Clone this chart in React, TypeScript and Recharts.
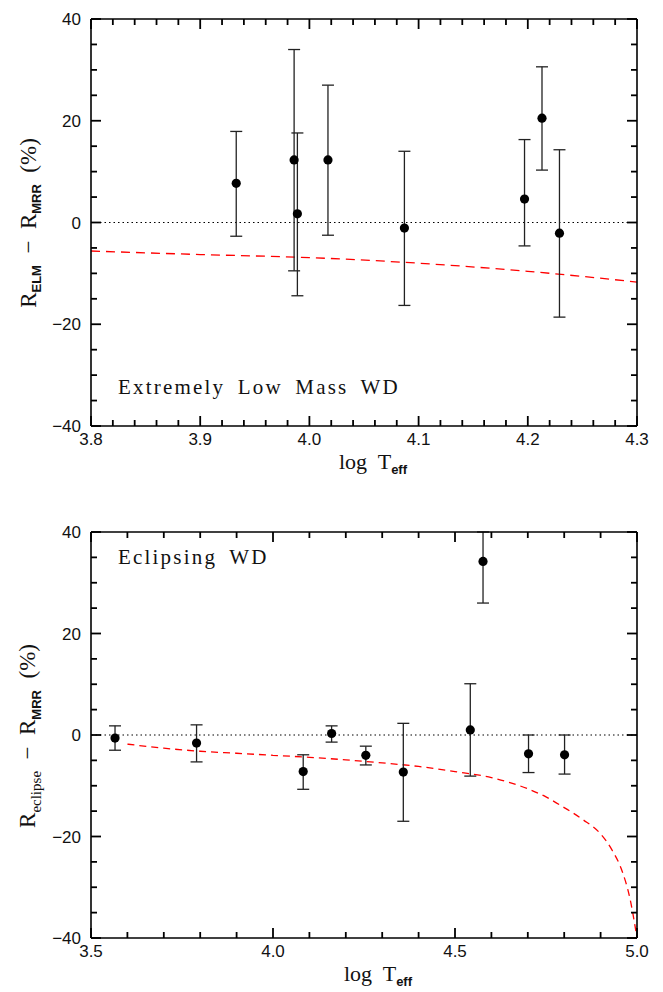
import React from 'react';
import { ComposedChart, XAxis, YAxis, Line, Scatter, ErrorBar, ReferenceLine } from 'recharts';

// ---- top panel: extremely low mass WDs ----
const elmLogT = [3.933, 3.986, 3.989, 4.017, 4.087, 4.197, 4.213, 4.229];
const elmDiff = [7.7, 12.3, 1.7, 12.3, -1.1, 4.6, 20.5, -2.1];
const elmLow = [-2.7, -9.5, -14.4, -2.5, -16.3, -4.6, 10.3, -18.6];
const elmHigh = [17.9, 34.0, 17.6, 27.0, 14.0, 16.3, 30.6, 14.3];

const elmCurveX = [3.8, 3.9, 4.0, 4.1, 4.2, 4.3];
const elmCurveY = [-5.6, -6.3, -6.9, -8.0, -9.6, -11.7];

const elmXMinor = [3.8, 3.82, 3.84, 3.86, 3.88, 3.9, 3.92, 3.94, 3.96, 3.98, 4.0, 4.02, 4.04, 4.06, 4.08, 4.1, 4.12, 4.14, 4.16, 4.18, 4.2, 4.22, 4.24, 4.26, 4.28, 4.3];
const elmXMajor = [3.8, 3.9, 4.0, 4.1, 4.2, 4.3];

// ---- bottom panel: eclipsing WDs ----
const eclLogT = [3.566, 3.79, 4.083, 4.161, 4.255, 4.358, 4.542, 4.577, 4.702, 4.801];
const eclDiff = [-0.6, -1.6, -7.2, 0.3, -4.0, -7.3, 1.0, 34.2, -3.7, -3.9];
const eclLow = [-3.0, -5.3, -10.7, -1.4, -5.9, -17.0, -8.1, 26.0, -7.4, -7.7];
const eclHigh = [1.8, 2.0, -3.9, 1.8, -2.2, 2.3, 10.1, 40.0, 0.0, 0.0];

const eclCurveX = [3.6, 3.7, 3.8, 3.9, 4.0, 4.1, 4.2, 4.3, 4.4, 4.5, 4.6, 4.7, 4.75, 4.8, 4.85, 4.9, 4.93, 4.96, 4.98, 5.0];
const eclCurveY = [-1.8, -2.6, -3.2, -3.6, -4.0, -4.4, -4.9, -5.5, -6.2, -7.2, -8.4, -10.6, -12.2, -14.3, -16.6, -19.5, -22.5, -27.0, -32.0, -40.0];

const eclXMinor = [3.5, 3.6, 3.7, 3.8, 3.9, 4.0, 4.1, 4.2, 4.3, 4.4, 4.5, 4.6, 4.7, 4.8, 4.9, 5.0];
const eclXMajor = [3.5, 4.0, 4.5, 5.0];

const yMinor = [-40, -35, -30, -25, -20, -15, -10, -5, 0, 5, 10, 15, 20, 25, 30, 35, 40];
const yMajor = [-40, -20, 0, 20, 40];

const points = (xs: number[], ys: number[], lo: number[], hi: number[]) =>
  xs.map((x, i) => ({ x, y: ys[i], err: [ys[i] - lo[i], hi[i] - ys[i]] }));
const curve = (xs: number[], ys: number[]) => xs.map((x, i) => ({ x, y: ys[i] }));

const elmPoints = points(elmLogT, elmDiff, elmLow, elmHigh);
const elmCurve = curve(elmCurveX, elmCurveY);
const eclPoints = points(eclLogT, eclDiff, eclLow, eclHigh);
const eclCurve = curve(eclCurveX, eclCurveY);

const isMajor = (v: number, majors: number[]) => majors.some((m) => Math.abs(m - v) < 1e-6);

// inward tick marks on all four sides of the frame, placed through the chart scales
function tickMarks(xDomain: number[], xMinor: number[], xMajor: number[]) {
  const marks: any[] = [];
  xMinor.forEach((v) => {
    const len = isMajor(v, xMajor) ? 10 : 6;
    marks.push({ x: v, y: -40, dx: 0, dy: -len });
    marks.push({ x: v, y: 40, dx: 0, dy: len });
  });
  yMinor.forEach((v) => {
    const len = isMajor(v, yMajor) ? 10 : 6;
    marks.push({ x: xDomain[0], y: v, dx: len, dy: 0 });
    marks.push({ x: xDomain[1], y: v, dx: -len, dy: 0 });
  });
  return marks;
}
const elmMarks = tickMarks([3.8, 4.3], elmXMinor, elmXMajor);
const eclMarks = tickMarks([3.5, 5.0], eclXMinor, eclXMajor);

const TICK_FONT = '"Liberation Sans", Arial, sans-serif';
const LABEL_FONT = '"Liberation Serif", "DejaVu Serif", serif';
const minus = (s: string) => s.replace('-', '\u2212');

const XLabel = (props: any) => (
  <text x={props.x} y={props.y + 19} textAnchor="middle" fontSize={17} fontFamily={TICK_FONT} fill="#111">
    {props.payload.value.toFixed(1)}
  </text>
);
const YLabel = (props: any) => (
  <text x={props.x - 10} y={props.y + 6} textAnchor="end" fontSize={17} fontFamily={TICK_FONT} fill="#111">
    {minus(props.payload.value.toFixed(0))}
  </text>
);

const Dot = (p: any) => <circle cx={p.cx} cy={p.cy} r={4.6} fill="#000" />;
const TickMark = (p: any) => {
  const d = p.payload || {};
  return (
    <line x1={p.cx} y1={p.cy} x2={p.cx + (d.dx || 0)} y2={p.cy + (d.dy || 0)} stroke="#000" strokeWidth={1.8} />
  );
};

const frame = { stroke: '#000', strokeWidth: 1.6 };

function axes(xDomain: number[], xMajor: number[]) {
  return [
    <XAxis key="b" xAxisId="b" type="number" dataKey="x" domain={xDomain} ticks={xMajor} interval={0} height={1}
      tickSize={0} tickMargin={0} tickLine={false} axisLine={frame} tick={XLabel} />,
    <XAxis key="t" xAxisId="t" orientation="top" type="number" dataKey="x" domain={xDomain} ticks={xMajor} height={1}
      tickLine={false} axisLine={frame} tick={false} />,
    <YAxis key="l" yAxisId="l" type="number" dataKey="y" domain={[-40, 40]} ticks={yMajor} interval={0} width={1}
      tickSize={0} tickMargin={0} tickLine={false} axisLine={frame} tick={YLabel} />,
    <YAxis key="r" yAxisId="r" orientation="right" type="number" dataKey="y" domain={[-40, 40]} ticks={yMajor} width={1}
      tickLine={false} axisLine={frame} tick={false} />,
  ];
}

export default function App() {
  const margin1 = { top: 10, right: 17, bottom: 61, left: 82 };
  const margin2 = { top: 23, right: 17, bottom: 53, left: 82 };
  const sub = { fontFamily: TICK_FONT, fontSize: 13, fontWeight: 'bold' as const };
  const panelText = { position: 'absolute' as const, left: 110, fontFamily: LABEL_FONT, fontSize: 21, letterSpacing: 2.2, wordSpacing: 5, color: '#111', whiteSpace: 'nowrap' as const };
  return (
    <div style={{ position: 'relative', width: 655, height: 984, background: '#fff' }}>
      <div style={{ position: 'absolute', left: 0, top: 0 }}>
        <ComposedChart width={647} height={480} margin={margin1}>
          {axes([3.8, 4.3], elmXMajor)}
          <ReferenceLine xAxisId="b" yAxisId="l" y={0} stroke="#000" strokeDasharray="1.5 3" strokeWidth={1} />
          <Scatter xAxisId="b" yAxisId="l" data={elmMarks} dataKey="y" shape={TickMark} isAnimationActive={false} />
          <Line xAxisId="b" yAxisId="l" data={elmCurve} dataKey="y" type="monotone" stroke="#ff0000"
            strokeDasharray="9 6" strokeWidth={1.3} dot={false} isAnimationActive={false} />
          <Scatter xAxisId="b" yAxisId="l" data={elmPoints} dataKey="y" shape={Dot} isAnimationActive={false}>
            <ErrorBar dataKey="err" direction="y" width={6} stroke="#222" strokeWidth={1.3} isAnimationActive={false} />
          </Scatter>
        </ComposedChart>
      </div>
      <div style={{ position: 'absolute', left: 0, top: 500 }}>
        <ComposedChart width={647} height={484} margin={margin2}>
          {axes([3.5, 5.0], eclXMajor)}
          <ReferenceLine xAxisId="b" yAxisId="l" y={0} stroke="#000" strokeDasharray="1.5 3" strokeWidth={1} />
          <Scatter xAxisId="b" yAxisId="l" data={eclMarks} dataKey="y" shape={TickMark} isAnimationActive={false} />
          <Line xAxisId="b" yAxisId="l" data={eclCurve} dataKey="y" type="monotone" stroke="#ff0000"
            strokeDasharray="7 5" strokeWidth={1.3} dot={false} isAnimationActive={false} />
          <Scatter xAxisId="b" yAxisId="l" data={eclPoints} dataKey="y" shape={Dot} isAnimationActive={false}>
            <ErrorBar dataKey="err" direction="y" width={6} stroke="#222" strokeWidth={1.3} isAnimationActive={false} />
          </Scatter>
        </ComposedChart>
      </div>

      {/* panel texts */}
      <div style={{ ...panelText, top: 367 }}>Extremely Low Mass WD</div>
      <div style={{ ...panelText, top: 537 }}>Eclipsing WD</div>

      {/* x axis titles */}
      <div style={{ position: 'absolute', left: 365, top: 455, transform: 'translate(-50%, -50%)', fontFamily: LABEL_FONT, fontSize: 22, color: '#111', whiteSpace: 'nowrap' }}>
        log&nbsp; T<sub style={sub}>eff</sub>
      </div>
      <div style={{ position: 'absolute', left: 370, top: 967, transform: 'translate(-50%, -50%)', fontFamily: LABEL_FONT, fontSize: 22, color: '#111', whiteSpace: 'nowrap' }}>
        log&nbsp; T<sub style={sub}>eff</sub>
      </div>

      {/* y axis titles */}
      <div style={{ position: 'absolute', left: 22, top: 215, transform: 'translate(-50%, -50%) rotate(-90deg)', fontFamily: LABEL_FONT, fontSize: 23, color: '#111', whiteSpace: 'nowrap' }}>
        R<sub style={sub}>ELM</sub>&nbsp; − &nbsp;R<sub style={sub}>MRR</sub>&nbsp; (%)
      </div>
      <div style={{ position: 'absolute', left: 22, top: 728, transform: 'translate(-50%, -50%) rotate(-90deg)', fontFamily: LABEL_FONT, fontSize: 23, color: '#111', whiteSpace: 'nowrap' }}>
        R<sub style={{ ...sub, fontWeight: 'normal' as const, fontFamily: LABEL_FONT, fontSize: 15 }}>eclipse</sub>&nbsp; − &nbsp;R<sub style={sub}>MRR</sub>&nbsp; (%)
      </div>
    </div>
  );
}
